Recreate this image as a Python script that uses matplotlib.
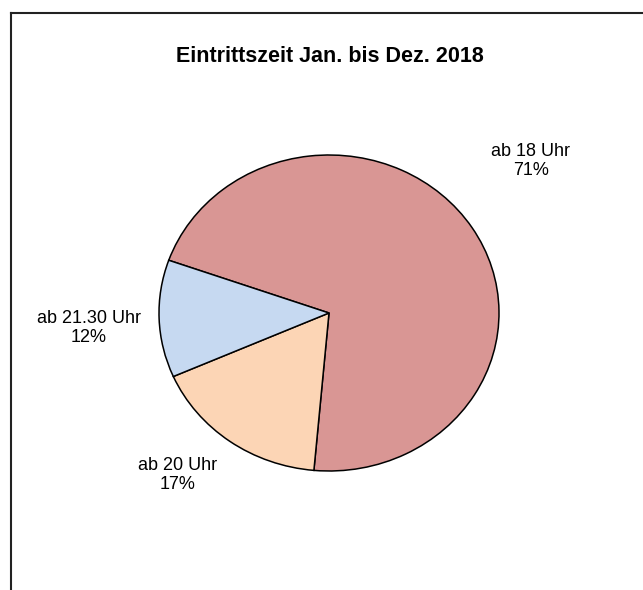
import matplotlib
matplotlib.use("Agg")
import matplotlib.pyplot as plt
from matplotlib.lines import Line2D

plt.rcParams['font.family'] = ['Liberation Sans', 'DejaVu Sans']

# daten
kategorien = ['ab 18 Uhr', 'ab 20 Uhr', 'ab 21.30 Uhr']
anteile = [71, 17, 12]
farben = ['#D99694', '#FCD5B5', '#C6D9F1']
titel = 'Eintrittszeit Jan. bis Dez. 2018'

W, H = 643, 590
fig = plt.figure(figsize=(W / 100, H / 100), dpi=100)

# pie axes (elliptisch, nicht equal)
links, rechts, oben, unten = 159, 499, 155, 471
ax = fig.add_axes([links / W, 1 - unten / H, (rechts - links) / W, (unten - oben) / H])
ax.pie(anteile, colors=farben, startangle=160.5, counterclock=False,
       wedgeprops=dict(edgecolor='black', linewidth=1.1))
ax.set_aspect('auto')
ax.set_xlim(-1, 1)
ax.set_ylim(-1, 1)
ax.axis('off')

# label positionen in daten-koordinaten
label_pos = [(1.188, 0.962), (-0.888, -1.025), (-1.412, -0.095)]
for name, wert, (lx, ly) in zip(kategorien, anteile, label_pos):
    ax.text(lx, ly, f'{name}\n{wert}%', ha='center', va='center',
            fontsize=13, linespacing=1.1, clip_on=False)

fig.text(330 / W, 1 - 56 / H, titel, ha='center', va='center',
         fontsize=15.5, fontweight='bold')

# rahmen (nur oben und links sichtbar)
fig.add_artist(Line2D([11 / W, 1], [1 - 13 / H, 1 - 13 / H], transform=fig.transFigure,
                      color='#222222', linewidth=1.5))
fig.add_artist(Line2D([11 / W, 11 / W], [0, 1 - 13 / H], transform=fig.transFigure,
                      color='#222222', linewidth=1.5))

fig.savefig('out.png', dpi=100)
